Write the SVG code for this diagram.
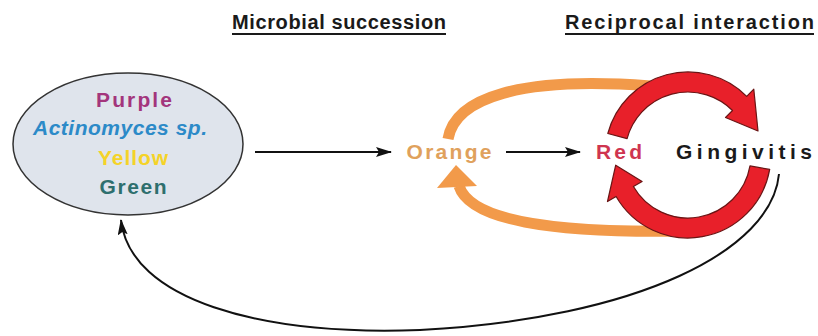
<svg xmlns="http://www.w3.org/2000/svg" width="818" height="336" viewBox="0 0 818 336">
<style>
  text { font-family: "Liberation Sans", Arial, sans-serif; font-weight: bold; }
  .hdr { font-size: 20px; fill: #1a1a1a; }
  .lbl { font-size: 21px; text-anchor: middle; }
  .conn { fill: none; stroke: #111; stroke-width: 2; }
  .org { fill: none; stroke: #f29a4a; stroke-width: 11; }
  .redarr { fill: #e8202a; stroke: #6a1515; stroke-width: 1.2; stroke-linejoin: round; }
</style>
<defs>
  <marker id="ah" markerUnits="userSpaceOnUse" markerWidth="16" markerHeight="10" refX="15" refY="5" orient="auto">
    <path d="M0,0 L16,5 L0,10 L3,5 Z" fill="#111"/>
  </marker>
</defs>
<rect width="818" height="336" fill="#ffffff"/>

<g id="headers">
  <text class="hdr" x="232" y="29" textLength="214" lengthAdjust="spacing">Microbial succession</text>
  <rect x="232" y="33" width="214" height="2" fill="#1a1a1a"/>
  <text class="hdr" x="565" y="29" textLength="249" lengthAdjust="spacing">Reciprocal interaction</text>
  <rect x="565" y="33" width="249" height="2" fill="#1a1a1a"/>
</g>

<g id="connectors">
  <path class="org" d="M448 139 C455 98, 520 76, 650 86"/>
  <path class="org" d="M682 231 C550 233, 470 220, 459 186"/>
  <polygon points="456,165 477,186 437,188" fill="#f29a4a"/>
  <line class="conn" x1="255" y1="152" x2="391" y2="152" marker-end="url(#ah)"/>
  <line class="conn" x1="506" y1="152" x2="580" y2="152" marker-end="url(#ah)"/>
  <path class="conn" d="M779 174 C772 250, 640 318, 420 330 C260 336, 130 300, 121 220" marker-end="url(#ah)"/>
</g>

<g id="red-loop">
  <path class="redarr" d="M607.8 133.5 A83 83 0 0 1 746.7 96.3 L753.8 89.2 L758 131 L725.5 117.5 L732.5 110.5 A63 63 0 0 0 627.1 138.7 Z"/>
  <path class="redarr" d="M769.7 169.4 A83 83 0 0 1 616.1 196.5 L607.5 201.5 L615.7 165.2 L642.1 181.5 L633.4 186.5 A63 63 0 0 0 750 165.9 Z"/>
</g>

<g id="early-colonizers">
  <ellipse cx="128" cy="144" rx="115" ry="71" fill="#dfe4ec" stroke="#333" stroke-width="1.5"/>
  <text class="lbl" x="134" y="107" fill="#a3357c" textLength="76" lengthAdjust="spacing">Purple</text>
  <text class="lbl" x="120" y="135" fill="#2c8ac8" font-style="italic" textLength="174" lengthAdjust="spacing">Actinomyces sp.</text>
  <text class="lbl" x="133" y="165" fill="#f5d328" textLength="70" lengthAdjust="spacing">Yellow</text>
  <text class="lbl" x="133" y="194" fill="#2e6f6e" textLength="67" lengthAdjust="spacing">Green</text>
</g>

<g id="orange">
  <text class="lbl" x="449" y="159" fill="#e0a15c" textLength="85" lengthAdjust="spacing">Orange</text>
</g>
<g id="red">
  <text class="lbl" x="619" y="159" fill="#cf3550" textLength="46" lengthAdjust="spacing">Red</text>
</g>
<g id="gingivitis">
  <text class="lbl" x="744" y="159" fill="#1a1a1a" textLength="136" lengthAdjust="spacing">Gingivitis</text>
</g>
</svg>
